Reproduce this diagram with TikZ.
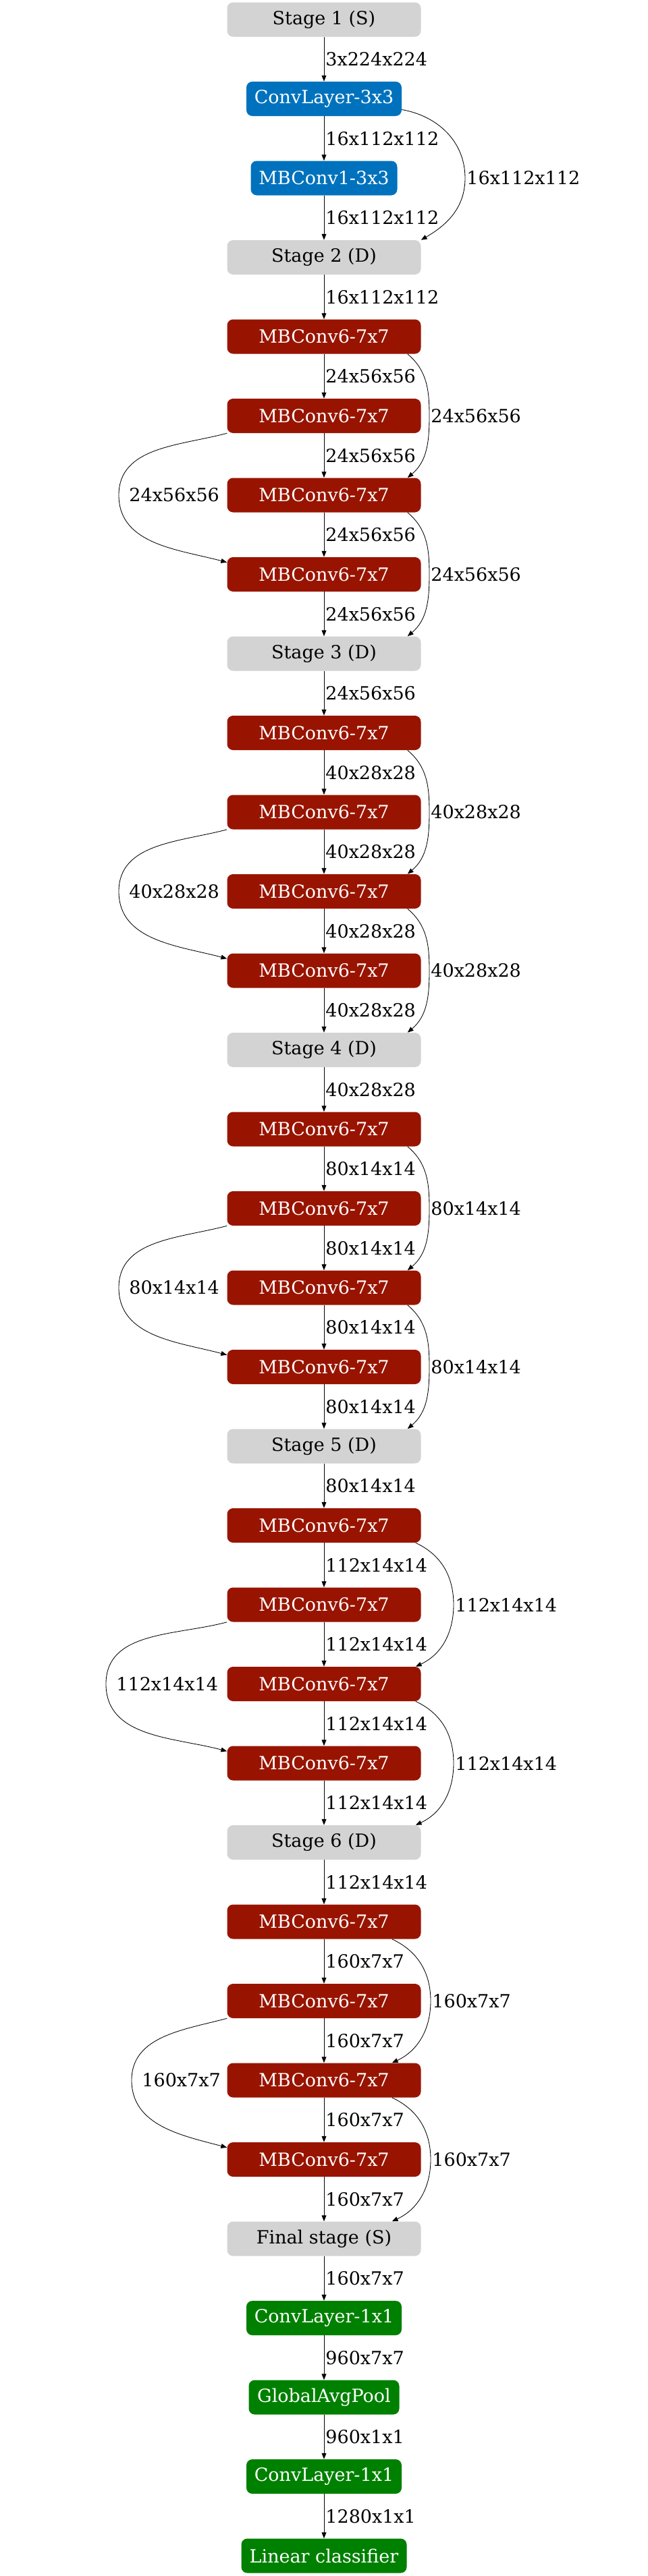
\documentclass[tikz,border=0pt]{standalone}
\usepackage{fontspec}
\setmainfont{DejaVu Serif}
\usepackage{xcolor}
\usetikzlibrary{arrows.meta}

\definecolor{stagegray}{RGB}{211,211,211}
\definecolor{stemblue}{RGB}{0,114,189}
\definecolor{blockred}{RGB}{152,20,0}
\definecolor{headgreen}{RGB}{0,128,0}

\tikzset{
    layer/.style={rounded corners=0.22cm, minimum height=1.275cm, minimum width=7.175cm,
        inner sep=0pt, font=\fontsize{19.2}{23}\selectfont},
    stagebox/.style={layer, fill=stagegray, text=black},
    stembox/.style={layer, fill=stemblue, text=white},
    mbbox/.style={layer, fill=blockred, text=white},
    headbox/.style={layer, fill=headgreen, text=white},
    edge/.style={line width=0.6pt, -{Triangle[length=0.22cm, width=0.17cm]}},
    lbl/.style={anchor=west, inner sep=0.05cm, font=\fontsize{19.2}{23}\selectfont}
}

\begin{document}
\begin{tikzpicture}
            \useasboundingbox (0,0) rectangle (24,-95.475);
            % stem
            \node[stagebox] (stageone) at (12, -0.725) {Stage 1 (S)};
            \node[stembox, minimum width=5.75cm] (convfirst) at (12, -0.725-1*2.9375) {ConvLayer-3x3};
            \node[stembox, minimum width=5.425cm] (mbone) at (12, -0.725-2*2.9375) {MBConv1-3x3};
            \node[stagebox] (stagetwo) at (12, -0.725-3*2.9375) {Stage 2 (D)};
            \node[mbbox] (stwoa) at (12, -0.725-4*2.9375) {MBConv6-7x7};
            \node[mbbox] (stwob) at (12, -0.725-5*2.9375) {MBConv6-7x7};
            \node[mbbox] (stwoc) at (12, -0.725-6*2.9375) {MBConv6-7x7};
            \node[mbbox] (stwod) at (12, -0.725-7*2.9375) {MBConv6-7x7};
            \node[stagebox] (stagethree) at (12, -0.725-8*2.9375) {Stage 3 (D)};
            \node[mbbox] (sthreea) at (12, -0.725-9*2.9375) {MBConv6-7x7};
            \node[mbbox] (sthreeb) at (12, -0.725-10*2.9375) {MBConv6-7x7};
            \node[mbbox] (sthreec) at (12, -0.725-11*2.9375) {MBConv6-7x7};
            \node[mbbox] (sthreed) at (12, -0.725-12*2.9375) {MBConv6-7x7};
            \node[stagebox] (stagefour) at (12, -0.725-13*2.9375) {Stage 4 (D)};
            \node[mbbox] (sfoura) at (12, -0.725-14*2.9375) {MBConv6-7x7};
            \node[mbbox] (sfourb) at (12, -0.725-15*2.9375) {MBConv6-7x7};
            \node[mbbox] (sfourc) at (12, -0.725-16*2.9375) {MBConv6-7x7};
            \node[mbbox] (sfourd) at (12, -0.725-17*2.9375) {MBConv6-7x7};
            \node[stagebox] (stagefive) at (12, -0.725-18*2.9375) {Stage 5 (D)};
            \node[mbbox] (sfivea) at (12, -0.725-19*2.9375) {MBConv6-7x7};
            \node[mbbox] (sfiveb) at (12, -0.725-20*2.9375) {MBConv6-7x7};
            \node[mbbox] (sfivec) at (12, -0.725-21*2.9375) {MBConv6-7x7};
            \node[mbbox] (sfived) at (12, -0.725-22*2.9375) {MBConv6-7x7};
            \node[stagebox] (stagesix) at (12, -0.725-23*2.9375) {Stage 6 (D)};
            \node[mbbox] (ssixa) at (12, -0.725-24*2.9375) {MBConv6-7x7};
            \node[mbbox] (ssixb) at (12, -0.725-25*2.9375) {MBConv6-7x7};
            \node[mbbox] (ssixc) at (12, -0.725-26*2.9375) {MBConv6-7x7};
            \node[mbbox] (ssixd) at (12, -0.725-27*2.9375) {MBConv6-7x7};
            \node[stagebox] (stagefinal) at (12, -0.725-28*2.9375) {Final stage (S)};
            \node[headbox, minimum width=5.75cm] (convlast) at (12, -0.725-29*2.9375) {ConvLayer-1x1};
            \node[headbox, minimum width=5.575cm] (pool) at (12, -0.725-30*2.9375) {GlobalAvgPool};
            \node[headbox, minimum width=5.75cm] (convhead) at (12, -0.725-31*2.9375) {ConvLayer-1x1};
            \node[headbox, minimum width=6.125cm] (classifier) at (12, -0.725-32*2.9375) {Linear classifier};

            % main chain
            \draw[edge] (stageone) -- node[lbl] {3x224x224} (convfirst);
            \draw[edge] (convfirst) -- node[lbl] {16x112x112} (mbone);
            \draw[edge] (mbone) -- node[lbl] {16x112x112} (stagetwo);
            \draw[edge] (stagetwo) -- node[lbl] {16x112x112} (stwoa);
            \draw[edge] (stwoa) -- node[lbl] {24x56x56} (stwob);
            \draw[edge] (stwob) -- node[lbl] {24x56x56} (stwoc);
            \draw[edge] (stwoc) -- node[lbl] {24x56x56} (stwod);
            \draw[edge] (stwod) -- node[lbl] {24x56x56} (stagethree);
            \draw[edge] (stagethree) -- node[lbl] {24x56x56} (sthreea);
            \draw[edge] (sthreea) -- node[lbl] {40x28x28} (sthreeb);
            \draw[edge] (sthreeb) -- node[lbl] {40x28x28} (sthreec);
            \draw[edge] (sthreec) -- node[lbl] {40x28x28} (sthreed);
            \draw[edge] (sthreed) -- node[lbl] {40x28x28} (stagefour);
            \draw[edge] (stagefour) -- node[lbl] {40x28x28} (sfoura);
            \draw[edge] (sfoura) -- node[lbl] {80x14x14} (sfourb);
            \draw[edge] (sfourb) -- node[lbl] {80x14x14} (sfourc);
            \draw[edge] (sfourc) -- node[lbl] {80x14x14} (sfourd);
            \draw[edge] (sfourd) -- node[lbl] {80x14x14} (stagefive);
            \draw[edge] (stagefive) -- node[lbl] {80x14x14} (sfivea);
            \draw[edge] (sfivea) -- node[lbl] {112x14x14} (sfiveb);
            \draw[edge] (sfiveb) -- node[lbl] {112x14x14} (sfivec);
            \draw[edge] (sfivec) -- node[lbl] {112x14x14} (sfived);
            \draw[edge] (sfived) -- node[lbl] {112x14x14} (stagesix);
            \draw[edge] (stagesix) -- node[lbl] {112x14x14} (ssixa);
            \draw[edge] (ssixa) -- node[lbl] {160x7x7} (ssixb);
            \draw[edge] (ssixb) -- node[lbl] {160x7x7} (ssixc);
            \draw[edge] (ssixc) -- node[lbl] {160x7x7} (ssixd);
            \draw[edge] (ssixd) -- node[lbl] {160x7x7} (stagefinal);
            \draw[edge] (stagefinal) -- node[lbl] {160x7x7} (convlast);
            \draw[edge] (convlast) -- node[lbl] {960x7x7} (pool);
            \draw[edge] (pool) -- node[lbl] {960x1x1} (convhead);
            \draw[edge] (convhead) -- node[lbl] {1280x1x1} (classifier);

            % skip connections
            \draw[edge] ([yshift=-0.4cm]convfirst.east) to[out=-10,in=90] (17.225, -0.725-2*2.9375) node[lbl] {16x112x112} to[out=-90,in=30] (stagetwo.north east);

            \draw[edge] ([xshift=-0.5cm]stwoa.south east) to[out=-40,in=90] (15.9, -0.725-5*2.9375) node[lbl] {24x56x56} to[out=-90,in=40] ([xshift=-0.5cm]stwoc.north east);
            \draw[edge] ([xshift=-0.5cm]stwoc.south east) to[out=-40,in=90] (15.9, -0.725-7*2.9375) node[lbl] {24x56x56} to[out=-90,in=40] ([xshift=-0.5cm]stagethree.north east);
            \draw[edge] (stwob.south west) to[out=195,in=90] (4.4, -0.725-6*2.9375) node[lbl, xshift=0.325cm] {24x56x56} to[out=-90,in=165] ([yshift=-0.2cm]stwod.north west);

            \draw[edge] ([xshift=-0.5cm]sthreea.south east) to[out=-40,in=90] (15.9, -0.725-10*2.9375) node[lbl] {40x28x28} to[out=-90,in=40] ([xshift=-0.5cm]sthreec.north east);
            \draw[edge] ([xshift=-0.5cm]sthreec.south east) to[out=-40,in=90] (15.9, -0.725-12*2.9375) node[lbl] {40x28x28} to[out=-90,in=40] ([xshift=-0.5cm]stagefour.north east);
            \draw[edge] (sthreeb.south west) to[out=195,in=90] (4.4, -0.725-11*2.9375) node[lbl, xshift=0.325cm] {40x28x28} to[out=-90,in=165] ([yshift=-0.2cm]sthreed.north west);

            \draw[edge] ([xshift=-0.5cm]sfoura.south east) to[out=-40,in=90] (15.9, -0.725-15*2.9375) node[lbl] {80x14x14} to[out=-90,in=40] ([xshift=-0.5cm]sfourc.north east);
            \draw[edge] ([xshift=-0.5cm]sfourc.south east) to[out=-40,in=90] (15.9, -0.725-17*2.9375) node[lbl] {80x14x14} to[out=-90,in=40] ([xshift=-0.5cm]stagefive.north east);
            \draw[edge] (sfourb.south west) to[out=195,in=90] (4.4, -0.725-16*2.9375) node[lbl, xshift=0.325cm] {80x14x14} to[out=-90,in=165] ([yshift=-0.2cm]sfourd.north west);

            \draw[edge] ([xshift=-0.2cm]sfivea.south east) to[out=-25,in=90] (16.8, -0.725-20*2.9375) node[lbl] {112x14x14} to[out=-90,in=25] ([xshift=-0.2cm]sfivec.north east);
            \draw[edge] ([xshift=-0.2cm]sfivec.south east) to[out=-25,in=90] (16.8, -0.725-22*2.9375) node[lbl] {112x14x14} to[out=-90,in=25] ([xshift=-0.2cm]stagesix.north east);
            \draw[edge] (sfiveb.south west) to[out=195,in=90] (3.925, -0.725-21*2.9375) node[lbl, xshift=0.325cm] {112x14x14} to[out=-90,in=165] ([yshift=-0.2cm]sfived.north west);

            \draw[edge] ([xshift=-1.075cm]ssixa.south east) to[out=-25,in=90] (15.95, -0.725-25*2.9375) node[lbl] {160x7x7} to[out=-90,in=25] ([xshift=-1.075cm]ssixc.north east);
            \draw[edge] ([xshift=-1.075cm]ssixc.south east) to[out=-25,in=90] (15.95, -0.725-27*2.9375) node[lbl] {160x7x7} to[out=-90,in=25] ([xshift=-1.075cm]stagefinal.north east);
            \draw[edge] (ssixb.south west) to[out=195,in=90] (4.875, -0.725-26*2.9375) node[lbl, xshift=0.325cm] {160x7x7} to[out=-90,in=165] ([yshift=-0.2cm]ssixd.north west);
\end{tikzpicture}
\end{document}
